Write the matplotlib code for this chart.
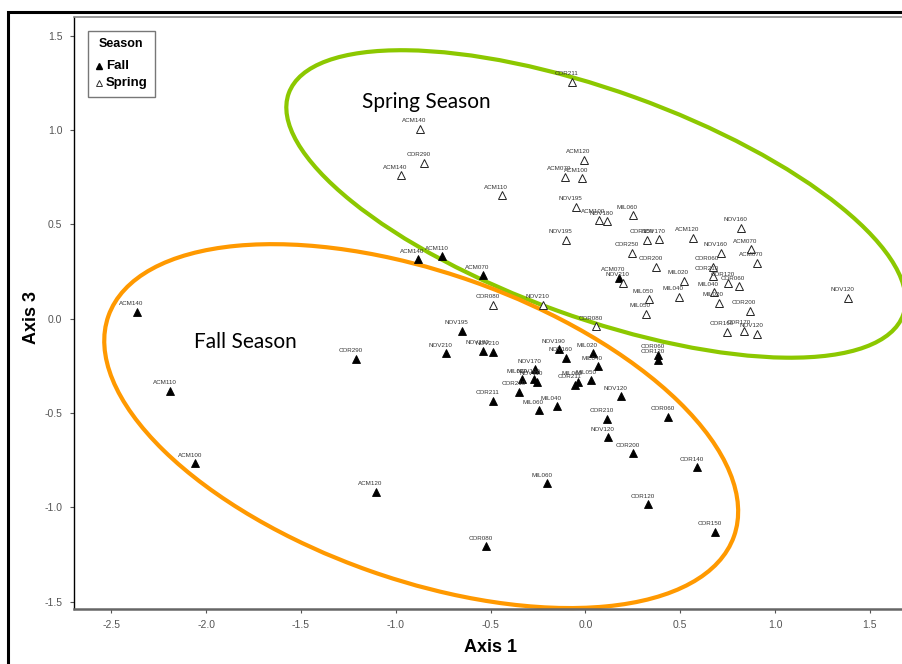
import matplotlib
matplotlib.use("Agg")
import matplotlib.pyplot as plt
from matplotlib.patches import Ellipse, Rectangle
from matplotlib.lines import Line2D

# ---------------- data ----------------
fall_labels = ["ACM140", "ACM110", "ACM100", "COR290", "ACM140", "ACM110", "ACM070",
               "ACM120", "COR080", "MIL060", "COR120", "COR150", "COR140", "COR200",
               "NOV120", "COR210", "COR060", "NOV120", "NOV195", "NOV210", "NOV180",
               "NOV210", "NOV190", "NOV160", "NOV170", "MIL030", "NOV100", "NOV110",
               "COR210", "COR211", "MIL060", "MIL040", "COR211", "MIL060", "MIL050",
               "MIL020", "MIL040", "ACM070", "COR060", "COR120"]
fall_x = [-2.367, -2.189, -2.057, -1.209, -0.882, -0.756, -0.540,
          -1.104, -0.524, -0.202, 0.330, 0.683, 0.588, 0.251,
          0.119, 0.114, 0.435, 0.187, -0.650, -0.735, -0.540,
          -0.487, -0.139, -0.102, -0.266, -0.334, -0.271, -0.255,
          -0.350, -0.487, -0.245, -0.150, -0.055, -0.039, 0.030,
          0.040, 0.066, 0.177, 0.383, 0.383]
fall_y = [0.036, -0.383, -0.765, -0.213, 0.316, 0.332, 0.231,
          -0.918, -1.205, -0.871, -0.982, -1.130, -0.786, -0.712,
          -0.627, -0.531, -0.521, -0.410, -0.065, -0.182, -0.171,
          -0.176, -0.161, -0.208, -0.267, -0.320, -0.320, -0.335,
          -0.388, -0.436, -0.484, -0.463, -0.351, -0.335, -0.325,
          -0.182, -0.251, 0.216, -0.192, -0.219]

spring_labels = ["COR211", "ACM140", "COR290", "ACM140", "ACM120", "ACM070", "ACM100",
                 "ACM110", "NOV195", "NOV195", "ACM100", "NOV180", "MIL060", "COR150",
                 "NOV170", "ACM120", "COR250", "NOV160", "NOV160", "ACM070", "ACM070",
                 "COR200", "COR060", "COR210", "NOV210", "MIL020", "COR120", "COR060",
                 "MIL040", "MIL020", "MIL050", "MIL040", "MIL050", "COR200", "COR160",
                 "COR170", "NOV120", "NOV120", "COR080", "COR080", "NOV210"]
spring_x = [-0.071, -0.872, -0.851, -0.972, -0.007, -0.107, -0.018,
            -0.440, -0.050, -0.102, 0.072, 0.114, 0.251, 0.325,
            0.388, 0.567, 0.246, 0.819, 0.714, 0.873, 0.904,
            0.372, 0.672, 0.672, 0.198, 0.519, 0.753, 0.808,
            0.677, 0.704, 0.335, 0.493, 0.319, 0.867, 0.746,
            0.836, 0.904, 1.383, 0.056, -0.487, -0.223]
spring_y = [1.254, 1.005, 0.825, 0.761, 0.841, 0.751, 0.745,
            0.655, 0.592, 0.417, 0.523, 0.517, 0.548, 0.417,
            0.422, 0.428, 0.348, 0.481, 0.348, 0.369, 0.295,
            0.274, 0.274, 0.226, 0.189, 0.200, 0.189, 0.173,
            0.141, 0.083, 0.104, 0.115, 0.025, 0.041, -0.070,
            -0.065, -0.081, 0.110, -0.039, 0.073, 0.073]

x_ticks = [-2.5, -2.0, -1.5, -1.0, -0.5, 0.0, 0.5, 1.0, 1.5]
y_ticks = [-1.5, -1.0, -0.5, 0.0, 0.5, 1.0, 1.5]

# ---------------- figure ----------------
W, H = 902, 664
fig = plt.figure(figsize=(W / 100, H / 100), dpi=100)
narrow = ["Liberation Sans Narrow", "Liberation Sans", "DejaVu Sans"]

ax_l, ax_r, ax_t, ax_b = 73.5, 902, 17.3, 609
ax = fig.add_axes([ax_l / W, (H - ax_b) / H, (ax_r - ax_l) / W, (ax_b - ax_t) / H])
ax.set_xlim(-2.70, 1.67)
ax.set_ylim(-1.538, 1.597)

# outer frame
fig.add_artist(Line2D([8 / W, 8 / W, 1.0], [0, 1 - 12 / H, 1 - 12 / H],
                      transform=fig.transFigure, color="black", lw=2.2,
                      solid_joinstyle="miter"))

ax.spines["right"].set_visible(False)
ax.spines["top"].set_color("#888888")
ax.spines["top"].set_linewidth(1.2)
ax.spines["bottom"].set_color("#666666")
ax.spines["bottom"].set_linewidth(1.8)
ax.spines["left"].set_color("black")
ax.spines["left"].set_linewidth(1.0)

ax.set_xticks(x_ticks)
ax.set_yticks(y_ticks)
ax.set_xticklabels([f"{v:.1f}" for v in x_ticks])
ax.set_yticklabels([f"{v:.1f}" for v in y_ticks])
ax.tick_params(axis="both", direction="out", length=3, width=0.8, color="#555555",
               labelsize=7.5, labelcolor="#555555", pad=5)
for lab in ax.get_xticklabels() + ax.get_yticklabels():
    lab.set_family(narrow)

ax.set_xlabel("Axis 1", fontsize=13, fontweight="bold", family=narrow)
ax.set_ylabel("Axis 3", fontsize=13, fontweight="bold", family=narrow)
ax.xaxis.set_label_coords((490 - ax_l) / (ax_r - ax_l), -(647 - ax_b) / (ax_b - ax_t))
ax.yaxis.set_label_coords(-(ax_l - 31) / (ax_r - ax_l), (ax_b - 318) / (ax_b - ax_t))
ax.xaxis.label.set_va("center")
ax.yaxis.label.set_va("center")

# ellipses
ax.add_patch(Ellipse((0.056, 0.608), 3.447, 1.202, angle=-19.9, fill=False,
                     edgecolor="#8CC800", lw=3.0, zorder=2))
ax.add_patch(Ellipse((-0.866, -0.569), 3.50, 1.627, angle=-19.5, fill=False,
                     edgecolor="#FF9900", lw=3.0, zorder=2, clip_on=False))

# points
ax.plot(fall_x, fall_y, linestyle="none", marker="^", ms=5.5, mfc="black",
        mec="black", mew=0.6, zorder=4)
ax.plot(spring_x, spring_y, linestyle="none", marker="^", ms=5.5, mfc="white",
        mec="#222222", mew=0.7, zorder=4)

for lbl, x, y in zip(fall_labels, fall_x, fall_y):
    ax.annotate(lbl, (x, y), xytext=(-4, 4), textcoords="offset points",
                ha="center", va="bottom", fontsize=4.5, color="#333333",
                family=narrow, zorder=5)
for lbl, x, y in zip(spring_labels, spring_x, spring_y):
    ax.annotate(lbl, (x, y), xytext=(-4, 4), textcoords="offset points",
                ha="center", va="bottom", fontsize=4.5, color="#333333",
                family=narrow, zorder=5)

# season annotations
fig.text(426 / W, 1 - 102 / H, "Spring Season", fontsize=15, family=["Lato", "DejaVu Sans"],
         ha="center", va="center", color="black")
fig.text(245 / W, 1 - 342 / H, "Fall Season", fontsize=15, family=["Lato", "DejaVu Sans"],
         ha="center", va="center", color="black")

# legend box
lx0, ly0, lx1, ly1 = 88, 31, 155, 97
fig.add_artist(Rectangle((lx0 / W, 1 - ly1 / H), (lx1 - lx0) / W, (ly1 - ly0) / H,
                         transform=fig.transFigure, fill=True, facecolor="white",
                         edgecolor="#777777", lw=1.0, zorder=6))
fig.text(121 / W, 1 - 44 / H, "Season", fontsize=9, fontweight="bold", family=narrow,
         ha="center", va="center", zorder=7)
fig.add_artist(Line2D([99 / W], [1 - 66 / H], marker="^", ms=5, mfc="black", mec="black",
                      transform=fig.transFigure, zorder=7))
fig.add_artist(Line2D([99 / W], [1 - 83 / H], marker="^", ms=5, mfc="white", mec="#333333",
                      mew=0.7, transform=fig.transFigure, zorder=7))
fig.text(106 / W, 1 - 66 / H, "Fall", fontsize=9.5, fontweight="bold", family=narrow,
         ha="left", va="center", zorder=7)
fig.text(106 / W, 1 - 83 / H, "Spring", fontsize=9.5, fontweight="bold", family=narrow,
         ha="left", va="center", zorder=7)

fig.savefig("out.png", dpi=100)
